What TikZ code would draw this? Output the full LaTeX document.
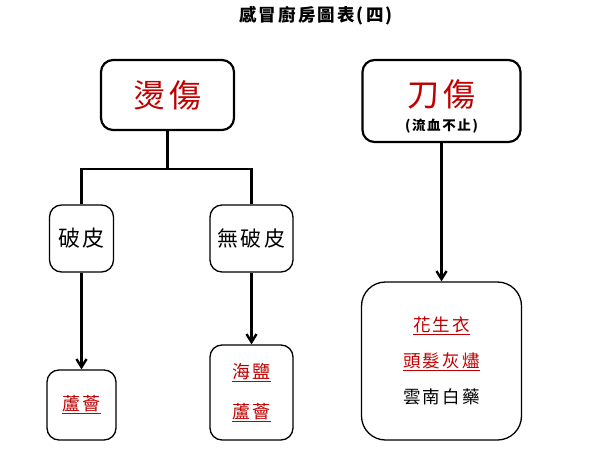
\documentclass[tikz,border=0pt]{standalone}
\usepackage{fontspec}
\setmainfont[LetterSpace=12]{Noto Sans CJK TC}
\usetikzlibrary{arrows.meta,positioning,calc}
\definecolor{scaldred}{HTML}{C00000}

\begin{document}
\begin{tikzpicture}[x=1pt,y=-1pt,>={Straight Barb[length=8pt,width=10pt]},
  box/.style={draw=black,line width=1.3pt,rounded corners=12pt,fill=white,inner sep=0pt,align=center},
  headbox/.style={box,line width=2.2pt},
  link/.style={line width=2.2pt},
  arr/.style={->,line width=2.4pt}]
\useasboundingbox (0,0) rectangle (600,455);
\node[font=\fontsize{17.5}{20}\selectfont\bfseries] (title) at (316,16) {感冒廚房圖表(四)};
% the two injuries
\node[headbox,minimum width=133pt,minimum height=70pt,text=scaldred,font=\fontsize{32}{36}\selectfont] (scald) at (167.5,95) {燙傷};
\node[headbox,minimum width=158pt,minimum height=82pt,font=\fontsize{32}{24}\selectfont] (cut) at (441.5,101) {\rule{0pt}{38pt}\textcolor{scaldred}{刀傷}\\{\fontsize{13.5}{14}\selectfont\bfseries (流血不止)}};
% burn cases
\node[box,minimum width=64pt,minimum height=67pt,font=\fontsize{22}{26}\selectfont] (broken) at (81.5,238.5) {破皮};
\node[box,minimum width=83pt,minimum height=67pt,font=\fontsize{21}{26}\selectfont] (intact) at (251.5,238.5) {無破皮};
% remedies
\node[box,minimum width=69pt,minimum height=70pt,text=scaldred,font=\fontsize{18}{20}\selectfont] (aloe) at (81.5,405) {\underline{蘆薈}};
\node[box,minimum width=83pt,minimum height=95pt,text=scaldred,font=\fontsize{18}{40}\selectfont] (saltaloe) at (251.5,392.5) {\underline{海鹽}\\\underline{蘆薈}};
\node[box,minimum width=160pt,minimum height=158pt,rounded corners=24pt,font=\fontsize{17.5}{36}\selectfont] (stanch) at (441.5,361) {\textcolor{scaldred}{\underline{花生衣}}\\\textcolor{scaldred}{\underline{頭髮灰燼}}\\雲南白藥};
\coordinate (fork) at ($(scald.south)+(0,38)$);
\draw[link] (scald.south) -- (fork);
\draw[link] (broken.north) |- (fork) -| (intact.north);
\draw[arr] (broken.south) -- (aloe.north);
\draw[arr] (intact.south) -- (saltaloe.north);
\draw[arr] (cut.south) -- (stanch.north);
\end{tikzpicture}
\end{document}
